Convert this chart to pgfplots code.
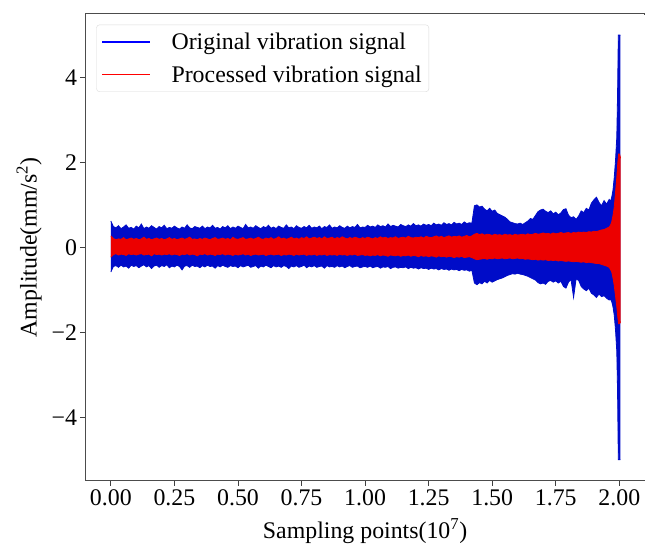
\documentclass[border=0pt]{standalone}
\usepackage{fontspec}
\setmainfont{Liberation Serif}
\usepackage{pgfplots}
\pgfplotsset{compat=1.18}
\usepackage{pgfplotstable}
\usepgfplotslibrary{fillbetween}
\usetikzlibrary{calc}
\definecolor{sigblue}{RGB}{0,12,200}
\definecolor{sigred}{RGB}{236,0,0}

\pgfplotstableread{
x top bot
0.00 0.62 -0.58
0.01 0.49 -0.45
0.02 0.46 -0.43
0.03 0.51 -0.47
0.04 0.44 -0.42
0.05 0.48 -0.46
0.06 0.53 -0.44
0.07 0.45 -0.49
0.08 0.47 -0.42
0.09 0.43 -0.45
0.10 0.50 -0.43
0.11 0.46 -0.48
0.12 0.55 -0.44
0.13 0.44 -0.41
0.14 0.48 -0.46
0.15 0.45 -0.43
0.16 0.51 -0.50
0.17 0.47 -0.44
0.18 0.43 -0.42
0.19 0.49 -0.47
0.20 0.46 -0.43
0.21 0.52 -0.45
0.22 0.44 -0.41
0.23 0.47 -0.48
0.24 0.45 -0.44
0.25 0.50 -0.46
0.26 0.46 -0.42
0.27 0.43 -0.45
0.28 0.48 -0.53
0.29 0.45 -0.44
0.30 0.53 -0.43
0.31 0.46 -0.47
0.32 0.44 -0.42
0.33 0.49 -0.45
0.34 0.47 -0.44
0.35 0.45 -0.48
0.36 0.50 -0.43
0.37 0.44 -0.46
0.38 0.48 -0.42
0.39 0.46 -0.45
0.40 0.52 -0.44
0.41 0.45 -0.49
0.42 0.47 -0.43
0.43 0.43 -0.46
0.44 0.49 -0.42
0.45 0.46 -0.45
0.46 0.51 -0.47
0.47 0.44 -0.43
0.48 0.48 -0.45
0.49 0.45 -0.44
0.50 0.50 -0.48
0.51 0.47 -0.43
0.52 0.44 -0.46
0.53 0.54 -0.44
0.54 0.46 -0.42
0.55 0.48 -0.47
0.56 0.45 -0.45
0.57 0.51 -0.43
0.58 0.47 -0.49
0.59 0.44 -0.44
0.60 0.49 -0.46
0.61 0.46 -0.42
0.62 0.52 -0.45
0.63 0.45 -0.48
0.64 0.48 -0.43
0.65 0.44 -0.46
0.66 0.50 -0.44
0.67 0.47 -0.47
0.68 0.45 -0.43
0.69 0.53 -0.45
0.70 0.46 -0.50
0.71 0.48 -0.44
0.72 0.44 -0.46
0.73 0.51 -0.43
0.74 0.47 -0.47
0.75 0.45 -0.45
0.76 0.49 -0.42
0.77 0.46 -0.48
0.78 0.52 -0.44
0.79 0.45 -0.46
0.80 0.48 -0.43
0.81 0.46 -0.47
0.82 0.50 -0.45
0.83 0.44 -0.44
0.84 0.49 -0.49
0.85 0.47 -0.43
0.86 0.53 -0.46
0.87 0.45 -0.45
0.88 0.48 -0.47
0.89 0.46 -0.43
0.90 0.51 -0.46
0.91 0.47 -0.44
0.92 0.45 -0.48
0.93 0.50 -0.45
0.94 0.46 -0.43
0.95 0.49 -0.47
0.96 0.47 -0.45
0.97 0.54 -0.44
0.98 0.46 -0.48
0.99 0.48 -0.46
1.00 0.47 -0.45
1.01 0.52 -0.47
1.02 0.48 -0.44
1.03 0.50 -0.48
1.04 0.47 -0.46
1.05 0.53 -0.45
1.06 0.49 -0.49
1.07 0.51 -0.46
1.08 0.48 -0.47
1.09 0.55 -0.45
1.10 0.49 -0.50
1.11 0.52 -0.47
1.12 0.50 -0.46
1.13 0.48 -0.49
1.14 0.54 -0.47
1.15 0.51 -0.48
1.16 0.49 -0.46
1.17 0.53 -0.50
1.18 0.50 -0.47
1.19 0.56 -0.49
1.20 0.51 -0.48
1.21 0.53 -0.51
1.22 0.50 -0.48
1.23 0.55 -0.50
1.24 0.52 -0.49
1.25 0.54 -0.52
1.26 0.51 -0.49
1.27 0.57 -0.51
1.28 0.53 -0.50
1.29 0.55 -0.53
1.30 0.52 -0.50
1.31 0.58 -0.52
1.32 0.54 -0.51
1.33 0.56 -0.54
1.34 0.53 -0.51
1.35 0.59 -0.53
1.36 0.55 -0.52
1.37 0.57 -0.55
1.38 0.54 -0.52
1.39 0.60 -0.54
1.40 0.56 -0.53
1.41 0.58 -0.56
1.42 0.57 -0.54
1.43 0.98 -0.84
1.44 1.00 -0.88
1.45 0.95 -0.83
1.46 0.97 -0.86
1.47 0.90 -0.80
1.48 0.86 -0.84
1.49 0.92 -0.78
1.50 0.85 -0.82
1.51 0.88 -0.79
1.52 0.80 -0.76
1.53 0.77 -0.74
1.54 0.74 -0.72
1.55 0.71 -0.69
1.56 0.66 -0.66
1.57 0.60 -0.64
1.58 0.58 -0.62
1.59 0.56 -0.63
1.60 0.55 -0.61
1.61 0.57 -0.63
1.62 0.54 -0.64
1.63 0.58 -0.66
1.64 0.62 -0.68
1.65 0.68 -0.71
1.66 0.66 -0.74
1.67 0.75 -0.77
1.68 0.84 -0.83
1.69 0.88 -0.86
1.70 0.90 -0.84
1.71 0.85 -0.87
1.72 0.82 -0.80
1.73 0.86 -0.78
1.74 0.79 -0.82
1.75 0.83 -0.79
1.76 0.77 -0.84
1.77 0.81 -0.80
1.78 0.89 -0.92
1.79 0.91 -0.96
1.80 0.76 -0.82
1.81 0.70 -0.76
1.82 0.72 -1.18
1.83 0.66 -0.74
1.84 0.74 -0.78
1.85 0.86 -0.92
1.86 0.82 -0.98
1.87 0.92 -1.02
1.88 0.88 -0.96
1.89 1.04 -1.08
1.90 1.12 -1.12
1.91 1.18 -1.18
1.92 1.06 -1.10
1.93 0.98 -1.16
1.94 1.10 -1.14
1.95 1.02 -1.20
1.96 1.13 -1.24
1.965 1.08 -1.22
1.970 1.18 -1.28
1.975 1.35 -1.40
1.980 1.65 -1.60
1.985 2.05 -1.95
1.990 2.60 -2.45
1.993 3.60 -3.40
1.996 5.00 -5.00
2.004 5.00 -5.00
}\bluedata

\pgfplotstableread{
x top bot
0.00 0.27 -0.23
0.01 0.21 -0.17
0.02 0.18 -0.15
0.03 0.20 -0.18
0.04 0.19 -0.16
0.05 0.23 -0.17
0.06 0.18 -0.19
0.07 0.20 -0.15
0.08 0.22 -0.17
0.09 0.19 -0.16
0.10 0.21 -0.18
0.11 0.18 -0.16
0.12 0.20 -0.15
0.13 0.24 -0.18
0.14 0.19 -0.17
0.15 0.21 -0.16
0.16 0.18 -0.20
0.17 0.20 -0.15
0.18 0.22 -0.17
0.19 0.19 -0.16
0.20 0.21 -0.18
0.21 0.18 -0.16
0.22 0.20 -0.17
0.23 0.23 -0.15
0.24 0.19 -0.18
0.25 0.21 -0.16
0.26 0.18 -0.17
0.27 0.20 -0.19
0.28 0.22 -0.16
0.29 0.19 -0.17
0.30 0.21 -0.15
0.31 0.24 -0.18
0.32 0.19 -0.16
0.33 0.20 -0.17
0.34 0.18 -0.20
0.35 0.21 -0.16
0.36 0.19 -0.17
0.37 0.22 -0.15
0.38 0.20 -0.18
0.39 0.18 -0.16
0.40 0.21 -0.17
0.41 0.23 -0.19
0.42 0.19 -0.16
0.43 0.20 -0.17
0.44 0.22 -0.15
0.45 0.19 -0.18
0.46 0.21 -0.16
0.47 0.18 -0.17
0.48 0.24 -0.19
0.49 0.20 -0.16
0.50 0.19 -0.18
0.51 0.21 -0.17
0.52 0.23 -0.15
0.53 0.19 -0.18
0.54 0.20 -0.16
0.55 0.22 -0.19
0.56 0.19 -0.17
0.57 0.21 -0.16
0.58 0.24 -0.18
0.59 0.20 -0.17
0.60 0.19 -0.16
0.61 0.22 -0.19
0.62 0.20 -0.17
0.63 0.23 -0.16
0.64 0.19 -0.18
0.65 0.21 -0.17
0.66 0.25 -0.16
0.67 0.20 -0.19
0.68 0.22 -0.17
0.69 0.19 -0.18
0.70 0.21 -0.16
0.71 0.24 -0.17
0.72 0.20 -0.19
0.73 0.22 -0.16
0.74 0.19 -0.18
0.75 0.23 -0.17
0.76 0.21 -0.16
0.77 0.25 -0.19
0.78 0.20 -0.17
0.79 0.22 -0.18
0.80 0.24 -0.16
0.81 0.21 -0.19
0.82 0.23 -0.17
0.83 0.20 -0.18
0.84 0.25 -0.16
0.85 0.21 -0.19
0.86 0.22 -0.17
0.87 0.24 -0.18
0.88 0.20 -0.17
0.89 0.23 -0.19
0.90 0.21 -0.16
0.91 0.25 -0.18
0.92 0.22 -0.17
0.93 0.20 -0.19
0.94 0.23 -0.17
0.95 0.21 -0.18
0.96 0.24 -0.16
0.97 0.22 -0.19
0.98 0.20 -0.18
0.99 0.23 -0.17
1.00 0.21 -0.19
1.01 0.24 -0.18
1.02 0.22 -0.20
1.03 0.20 -0.18
1.04 0.23 -0.19
1.05 0.21 -0.17
1.06 0.25 -0.20
1.07 0.22 -0.18
1.08 0.24 -0.19
1.09 0.21 -0.21
1.10 0.23 -0.18
1.11 0.22 -0.19
1.12 0.25 -0.20
1.13 0.21 -0.18
1.14 0.23 -0.21
1.15 0.24 -0.19
1.16 0.22 -0.20
1.17 0.26 -0.18
1.18 0.23 -0.21
1.19 0.22 -0.19
1.20 0.24 -0.20
1.21 0.23 -0.22
1.22 0.25 -0.19
1.23 0.22 -0.21
1.24 0.26 -0.20
1.25 0.24 -0.22
1.26 0.23 -0.20
1.27 0.25 -0.21
1.28 0.27 -0.23
1.29 0.24 -0.20
1.30 0.26 -0.22
1.31 0.23 -0.21
1.32 0.25 -0.23
1.33 0.27 -0.21
1.34 0.24 -0.22
1.35 0.26 -0.24
1.36 0.25 -0.22
1.37 0.27 -0.23
1.38 0.24 -0.21
1.39 0.26 -0.24
1.40 0.28 -0.23
1.41 0.25 -0.22
1.42 0.27 -0.24
1.43 0.31 -0.27
1.44 0.33 -0.29
1.45 0.30 -0.28
1.46 0.32 -0.27
1.47 0.29 -0.26
1.48 0.31 -0.28
1.49 0.30 -0.26
1.50 0.28 -0.27
1.51 0.31 -0.25
1.52 0.29 -0.27
1.53 0.30 -0.26
1.54 0.28 -0.25
1.55 0.31 -0.27
1.56 0.29 -0.26
1.57 0.30 -0.25
1.58 0.28 -0.27
1.59 0.31 -0.26
1.60 0.29 -0.25
1.61 0.30 -0.27
1.62 0.31 -0.26
1.63 0.29 -0.28
1.64 0.32 -0.27
1.65 0.30 -0.28
1.66 0.31 -0.29
1.67 0.33 -0.28
1.68 0.31 -0.30
1.69 0.32 -0.29
1.70 0.34 -0.30
1.71 0.32 -0.29
1.72 0.33 -0.31
1.73 0.31 -0.30
1.74 0.34 -0.31
1.75 0.32 -0.30
1.76 0.33 -0.32
1.77 0.35 -0.31
1.78 0.33 -0.32
1.79 0.34 -0.33
1.80 0.35 -0.32
1.81 0.33 -0.33
1.82 0.35 -0.34
1.83 0.34 -0.33
1.84 0.36 -0.34
1.85 0.35 -0.35
1.86 0.36 -0.34
1.87 0.35 -0.36
1.88 0.37 -0.35
1.89 0.36 -0.36
1.90 0.38 -0.37
1.91 0.37 -0.38
1.92 0.39 -0.38
1.93 0.41 -0.40
1.94 0.42 -0.42
1.95 0.45 -0.44
1.96 0.48 -0.47
1.965 0.52 -0.52
1.970 0.60 -0.58
1.975 0.75 -0.72
1.980 0.95 -0.90
1.985 1.30 -1.15
1.990 1.65 -1.40
1.994 2.00 -1.65
1.997 2.20 -1.80
2.001 2.20 -1.80
2.005 2.10 -1.75
}\reddata

\begin{document}
\begin{tikzpicture}
\begin{axis}[
  width=563pt, height=470pt, scale only axis,
  xmin=-0.1, xmax=2.1, ymin=-5.5, ymax=5.5,
  xtick={0,0.25,0.5,0.75,1,1.25,1.5,1.75,2},
  xticklabels={0.00,0.25,0.50,0.75,1.00,1.25,1.50,1.75,2.00},
  ytick={-4,-2,0,2,4},
  yticklabels={−4,−2,0,2,4},
  tick align=outside, xtick pos=bottom, ytick pos=left,
  major tick length=5pt,
  tick style={black!75, line width=0.8pt},
  axis line style={black!70, line width=1.2pt},
  ticklabel style={font=\fontsize{24}{28}\selectfont},
  label style={font=\fontsize{24}{28}\selectfont},
  xlabel={Sampling points(10\textsuperscript{7})},
  ylabel={Amplitude(mm/s\textsuperscript{2})},
  xlabel shift=6pt, ylabel shift=3pt,
  legend style={at={(0.0195,0.977)}, anchor=north west, draw=black!15,
    rounded corners=3pt, font=\fontsize{24}{28}\selectfont,
    inner xsep=5pt, inner ysep=6pt, row sep=11pt, column sep=19pt},
  legend cell align=left,
  legend image code/.code={\draw[#1] (0pt,0pt) -- (48pt,0pt);},
]
\addplot[name path=bt, sigblue, line width=0.8pt, forget plot] table[x=x,y=top]{\bluedata};
\addplot[name path=bb, sigblue, line width=0.8pt, forget plot] table[x=x,y=bot]{\bluedata};
\addplot[sigblue, forget plot] fill between[of=bt and bb];
\addplot[name path=rt, sigred, line width=0.8pt, forget plot] table[x=x,y=top]{\reddata};
\addplot[name path=rb, sigred, line width=0.8pt, forget plot] table[x=x,y=bot]{\reddata};
\addplot[sigred, forget plot] fill between[of=rt and rb];
\addlegendimage{blue, line width=1.5pt}
\addlegendentry{Original vibration signal}
\addlegendimage{red, line width=1.5pt}
\addlegendentry{Processed vibration signal}
\end{axis}
\draw[white, line width=2.5pt] ([yshift=-1pt]current axis.north east) -- ([yshift=1pt]current axis.south east);
\path ($(current axis.south west)+(-86pt,-65pt)$) rectangle ($(current axis.north east)+(0pt,14pt)$);
\end{tikzpicture}
\end{document}
